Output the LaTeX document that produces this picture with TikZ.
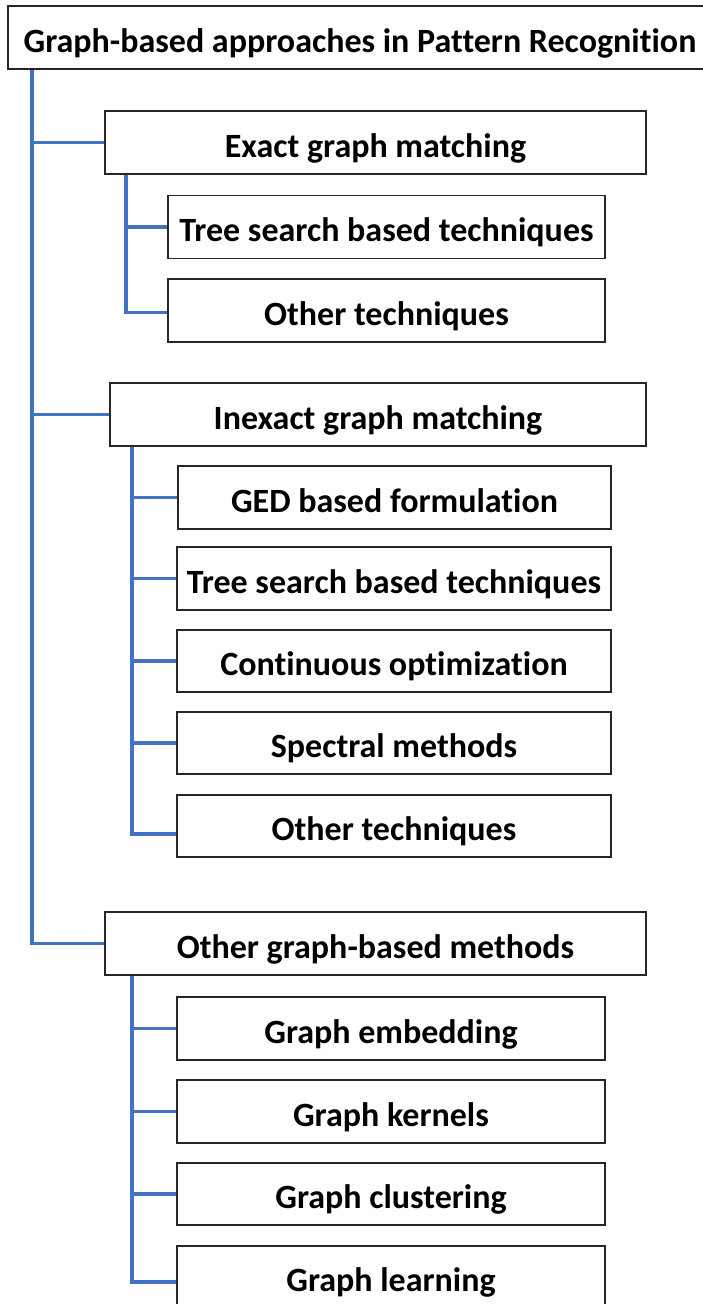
\documentclass[tikz,border=0pt]{standalone}
\usepackage{fontspec}
\setmainfont{Carlito}[Ligatures=NoCommon]
\usepackage{xcolor}
\usepackage{tikz}
\usetikzlibrary{positioning}
\usetikzlibrary{calc}
\definecolor{linkblue}{RGB}{68,114,196}
\tikzstyle{box} = [draw=black!85, line width=1.5pt, rectangle, inner sep=0pt,
minimum height=63pt, text height=34pt, text depth=5pt,
font=\fontsize{34}{38}\selectfont\bfseries]
\tikzstyle{branch} = [draw=linkblue, line width=3.8pt]

\begin{document}
\begin{tikzpicture}[x=1pt, y=-1pt]
		\useasboundingbox (0,0) rectangle (702,1304);
		\node [box, minimum width=704pt] at (360,37.5) (root) {Graph-based approaches in Pattern Recognition};
		% Exact
		\node [box, minimum width=541pt] at (375.5,142.5) (exact) {Exact graph matching};
		\node [box, minimum width=437pt] at (386.5,227) (extree) {Tree search based techniques};
		\node [box, minimum width=437pt] at (386.5,310.5) (exother) {Other techniques};
		% Inexact
		\node [box, minimum width=536pt] at (378,414.5) (inexact) {Inexact graph matching};
		\node [box, minimum width=433pt] at (394.5,497.5) (ged) {GED based formulation};
		\node [box, minimum width=434pt] at (394,578.5) (intree) {Tree search based techniques};
		\node [box, minimum width=434pt, minimum height=62pt] at (394,661) (contopt) {Continuous optimization};
		\node [box, minimum width=434pt, minimum height=62pt] at (394,743) (spectral) {Spectral methods};
		\node [box, minimum width=434pt, minimum height=62pt] at (394,826) (inother) {Other techniques};
		% Other graph-based
		\node [box, minimum width=541pt] at (375.5,943.5) (othergb) {Other graph-based methods};
		\node [box, minimum width=428pt] at (391,1028.5) (embed) {Graph embedding};
		\node [box, minimum width=428pt] at (391,1111.5) (kernels) {Graph kernels};
		\node [box, minimum width=428pt, minimum height=62pt] at (391,1194) (cluster) {Graph clustering};
		\node [box, minimum width=428pt, minimum height=62pt] at (391,1277) (learn) {Graph learning};
		%% Links
		\path [branch] ([xshift=25pt]root.south west) |- (exact.west);
		\path [branch] ([xshift=25pt]root.south west) |- (inexact.west);
		\path [branch] ([xshift=25pt]root.south west) |- (othergb.west);
		\path [branch] ([xshift=22pt]exact.south west) |- (extree.west);
		\path [branch] ([xshift=22pt]exact.south west) |- ([yshift=-2pt]exother.west);
		\path [branch] ([xshift=23pt]inexact.south west) |- (ged.west);
		\path [branch] ([xshift=23pt]inexact.south west) |- (intree.west);
		\path [branch] ([xshift=23pt]inexact.south west) |- (contopt.west);
		\path [branch] ([xshift=23pt]inexact.south west) |- (spectral.west);
		\path [branch] ([xshift=23pt]inexact.south west) |- ([yshift=-8pt]inother.west);
		\path [branch] ([xshift=28pt]othergb.south west) |- (embed.west);
		\path [branch] ([xshift=28pt]othergb.south west) |- (kernels.west);
		\path [branch] ([xshift=28pt]othergb.south west) |- (cluster.west);
		\path [branch] ([xshift=28pt]othergb.south west) |- ([yshift=-5pt]learn.west);
\end{tikzpicture}
\end{document}
